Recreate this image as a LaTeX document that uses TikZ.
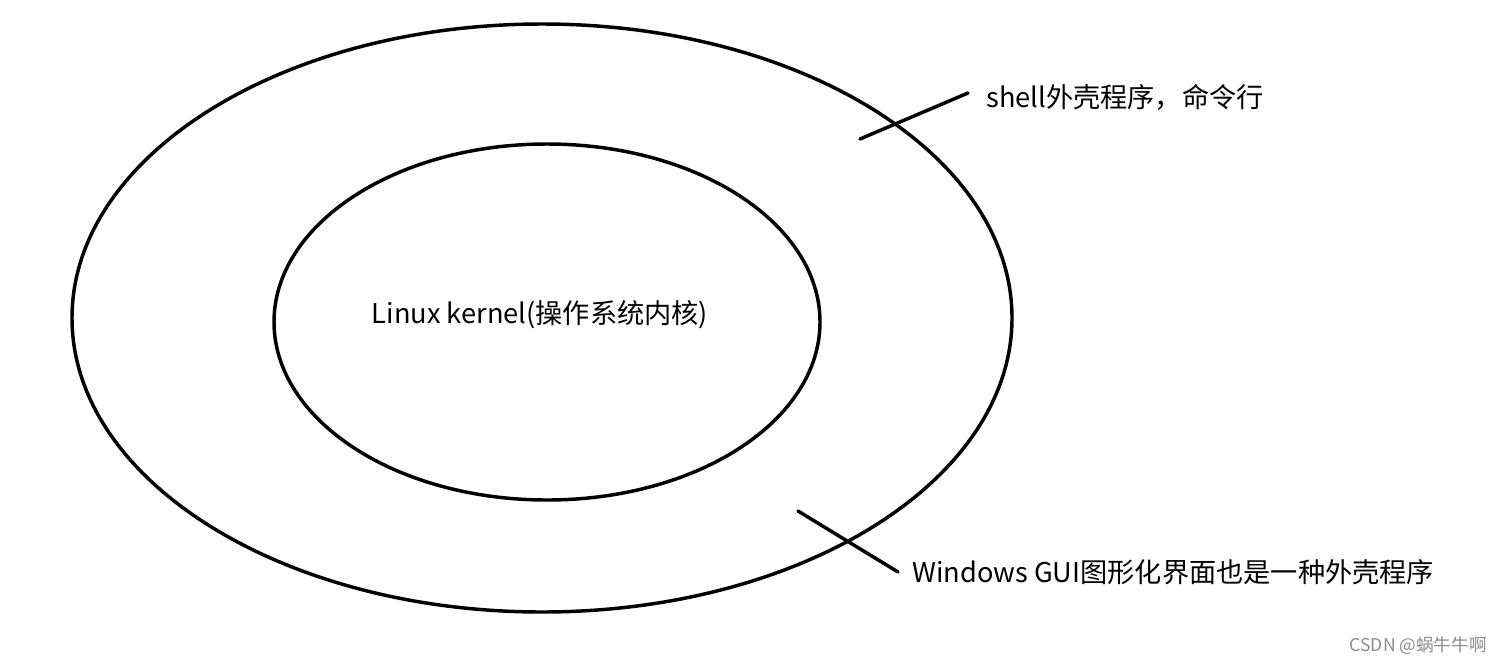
\documentclass[tikz,border=0pt]{standalone}
\usepackage{fontspec}
\usetikzlibrary{shapes.geometric}
\setmainfont{Noto Sans CJK SC}
\newfontfamily\wmfont{Noto Sans CJK SC}
\begin{document}
\begin{tikzpicture}[x=0.75pt,y=-0.75pt,
  ring/.style={draw=black,line width=2.6pt,ellipse,inner sep=0pt},
  pointer/.style={draw=black,line width=2.6pt,line cap=round},
  lbl/.style={font=\fontsize{20.4pt}{24pt}\selectfont,inner sep=0pt,anchor=west},
  wm/.style={font=\wmfont\fontsize{13.2pt}{15pt}\selectfont,text=black!45,inner sep=0pt,anchor=east}]
\useasboundingbox[fill=white] (0,0) rectangle (1501,665);
\node[ring,minimum width=705pt,minimum height=441pt] (outer) at (542,318) {};
\node[ring,minimum width=409.5pt,minimum height=267pt] (inner) at (547,322) {};
\node[lbl,anchor=center] (kernel) at (540,315) {Linux kernel(操作系统内核)};
\coordinate (p1a) at (860,139);
\coordinate (p1b) at (968,93);
\draw[pointer] (p1a) -- (p1b);
\node[lbl] (shell) at (986,97) {shell外壳程序，命令行};
\coordinate (p2a) at (798,511);
\coordinate (p2b) at (898,572);
\draw[pointer] (p2a) -- (p2b);
\node[lbl] (gui) at (912,572) {Windows GUI图形化界面也是一种外壳程序};
\node[wm] (mark) at (1487,646) {CSDN @蜗牛牛啊};
\end{tikzpicture}
\end{document}
